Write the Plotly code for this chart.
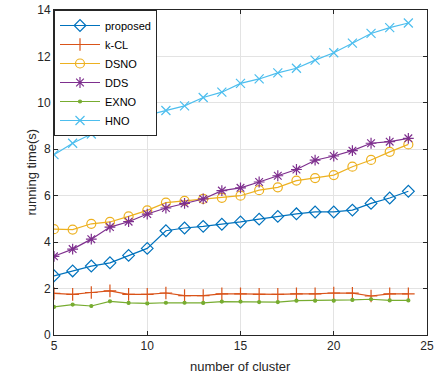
import plotly.graph_objects as go

clusters = list(range(5, 25))

proposed = [2.55, 2.76, 2.97, 3.11, 3.43, 3.73, 4.49, 4.61, 4.68, 4.77,
            4.87, 4.99, 5.11, 5.22, 5.30, 5.30, 5.38, 5.67, 5.90, 6.19]
k_cl = [1.79, 1.75, 1.83, 1.90, 1.75, 1.75, 1.81, 1.70, 1.70, 1.77,
        1.77, 1.75, 1.75, 1.77, 1.77, 1.81, 1.80, 1.68, 1.77, 1.77]
dsno = [4.56, 4.54, 4.79, 4.87, 5.11, 5.37, 5.70, 5.78, 5.86, 5.91,
        6.00, 6.24, 6.36, 6.65, 6.76, 6.89, 7.25, 7.54, 7.89, 8.21]
dds = [3.39, 3.70, 4.13, 4.65, 4.88, 5.21, 5.47, 5.67, 5.86, 6.22,
       6.34, 6.59, 6.86, 7.13, 7.53, 7.71, 7.94, 8.26, 8.33, 8.47]
exno = [1.21, 1.31, 1.25, 1.45, 1.38, 1.36, 1.39, 1.39, 1.38, 1.44,
        1.44, 1.42, 1.42, 1.48, 1.48, 1.48, 1.51, 1.54, 1.49, 1.49]
hno = [7.77, 8.26, 8.66, 9.03, 9.27, 9.47, 9.67, 9.87, 10.23, 10.46,
       10.84, 11.03, 11.29, 11.49, 11.84, 12.16, 12.57, 12.99, 13.24, 13.44]

x_ticks = [5, 10, 15, 20, 25]
y_ticks = [0, 2, 4, 6, 8, 10, 12, 14]

series = [
    ("proposed", proposed, "#0072BD", "diamond-open", 9),
    ("k-CL", k_cl, "#D95319", "cross-thin-open", 9),
    ("DSNO", dsno, "#EDB120", "circle-open", 9),
    ("DDS", dds, "#7E2F8E", "asterisk-open", 9),
    ("EXNO", exno, "#77AC30", "circle", 3),
    ("HNO", hno, "#4DBEEE", "x-thin-open", 9),
]

FONT = "Liberation Sans, Arial, sans-serif"
INK = "#262626"

fig = go.Figure()
for name, vals, color, symbol, size in series:
    fig.add_trace(go.Scatter(
        x=clusters, y=vals, name=name, mode="lines+markers",
        line=dict(color=color, width=1.2),
        marker=dict(symbol=symbol, size=size, color=color,
                    line=dict(color=color, width=1.2)),
    ))

axis_common = dict(
    showline=True, linecolor=INK, linewidth=1, mirror="ticks",
    ticks="inside", ticklen=4, tickcolor=INK,
    showgrid=True, gridcolor="#e3e3e3", gridwidth=1, zeroline=False,
    automargin=False,
    tickfont=dict(family=FONT, size=12, color=INK),
)

fig.update_xaxes(range=[5, 25], tickvals=x_ticks, **axis_common)
fig.update_yaxes(range=[0, 14], tickvals=y_ticks, **axis_common)

# axis titles placed as annotations for exact positioning
fig.add_annotation(text="number of cluster", xref="paper", yref="paper",
                   x=0.5, y=0, xanchor="center", yanchor="middle",
                   yshift=-31, showarrow=False,
                   font=dict(family=FONT, size=13, color=INK))
fig.add_annotation(text="running time(s)", xref="paper", yref="paper",
                   x=0, y=0.5, xanchor="center", yanchor="middle",
                   xshift=-23, textangle=-90, showarrow=False,
                   font=dict(family=FONT, size=13, color=INK))

fig.update_layout(
    width=440, height=381,
    margin=dict(l=54, r=13, t=10, b=46),
    plot_bgcolor="white", paper_bgcolor="white",
    legend=dict(x=0, y=1, xanchor="left", yanchor="top",
                bgcolor="white", bordercolor=INK, borderwidth=1,
                font=dict(family=FONT, size=11, color="#000000"),
                tracegroupgap=0, itemwidth=40),
)

fig.write_html("out.html")
